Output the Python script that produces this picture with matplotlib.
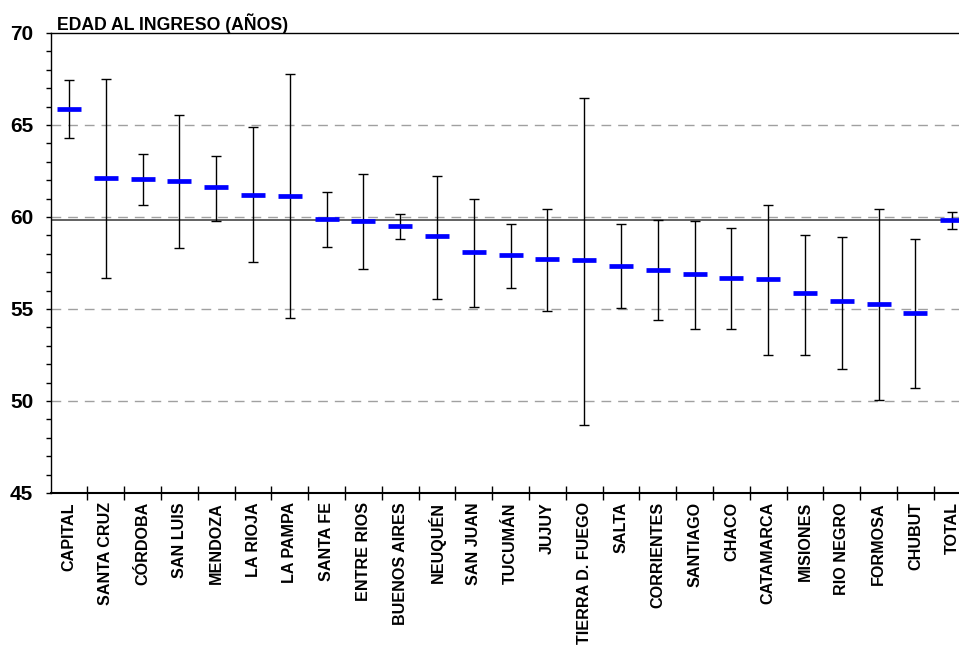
import numpy as np
import matplotlib
matplotlib.use("Agg")
import matplotlib.pyplot as plt
from matplotlib.ticker import MultipleLocator, FixedLocator

plt.rcParams['font.family'] = ['Liberation Sans', 'DejaVu Sans']

# Age at admission by province: mean with low/high range
provincias = ["CAPITAL", "SANTA CRUZ", "CÓRDOBA", "SAN LUIS", "MENDOZA", "LA RIOJA",
              "LA PAMPA", "SANTA FE", "ENTRE RIOS", "BUENOS AIRES", "NEUQUÉN",
              "SAN JUAN", "TUCUMÁN", "JUJUY", "TIERRA D. FUEGO", "SALTA",
              "CORRIENTES", "SANTIAGO", "CHACO", "CATAMARCA", "MISIONES",
              "RIO NEGRO", "FORMOSA", "CHUBUT", "TOTAL"]
media = [65.87, 62.14, 62.07, 61.96, 61.63, 61.21, 61.12, 59.89, 59.77, 59.51,
         58.95, 58.08, 57.95, 57.73, 57.64, 57.35, 57.14, 56.90, 56.70, 56.65,
         55.85, 55.42, 55.29, 54.78, 59.84]
maximo = [67.45, 67.52, 63.41, 65.53, 63.33, 64.87, 67.79, 61.36, 62.35, 60.18,
          62.24, 60.99, 59.60, 60.42, 66.47, 59.60, 59.85, 59.80, 59.42, 60.67,
          59.04, 58.91, 60.42, 58.80, 60.26]
minimo = [64.31, 56.67, 60.67, 58.30, 59.80, 57.55, 54.51, 58.37, 57.17, 58.80,
          55.54, 55.11, 56.16, 54.87, 48.71, 55.05, 54.39, 53.93, 53.93, 52.50,
          52.50, 51.76, 50.05, 50.71, 59.35]

media = np.array(media)
n = len(provincias)
x = np.arange(n)

fig = plt.figure(figsize=(9.59, 6.46), dpi=100)
# plot area runs a little past the right edge of the figure
ax = fig.add_axes([50.7 / 959, 153 / 646, n * 36.8 / 959, 460 / 646])

# reference lines
for y in [50, 55, 60, 65]:
    ax.axhline(y, color='#a0a0a0', lw=1, ls=(0, (7, 5)), zorder=1)
ax.axhline(media[-1], color='#555555', lw=1.3, zorder=2)

ax.errorbar(x, media, yerr=[media - np.array(minimo), np.array(maximo) - media],
            fmt='none', ecolor='black', elinewidth=1, capsize=3.4, capthick=1, zorder=3)
ax.plot(x, media, ls='none', marker='_', ms=16.6, mew=3.4, color='#0000FF', zorder=4)

ax.set_xlim(-0.5, n - 0.5)
ax.set_ylim(45, 70)
ax.set_xticks(x)
ax.set_xticklabels(provincias, rotation=90, fontsize=11.6, fontweight='bold', va='top')
ax.xaxis.set_minor_locator(FixedLocator(np.arange(n) + 0.5))
ax.tick_params(axis='x', which='major', length=0, pad=6.5)
ax.tick_params(axis='x', which='minor', direction='inout', length=10, width=1)

ax.yaxis.set_major_locator(MultipleLocator(5))
ax.yaxis.set_minor_locator(MultipleLocator(1))
ax.tick_params(axis='y', which='both', direction='out', length=3.5, width=1, labelsize=15, pad=9)
for lbl in ax.get_yticklabels():
    lbl.set_fontweight('bold')

for s in ['left', 'top', 'bottom']:
    ax.spines[s].set_color('black')
    ax.spines[s].set_linewidth(1)
ax.spines['bottom'].set_linewidth(1.5)
ax.spines['right'].set_visible(False)

fig.text(57 / 959, 1 - 30 / 646, "EDAD AL INGRESO (AÑOS)", fontsize=12.7, fontweight='bold',
         ha='left', va='baseline')

fig.savefig("out.png", dpi=100)
